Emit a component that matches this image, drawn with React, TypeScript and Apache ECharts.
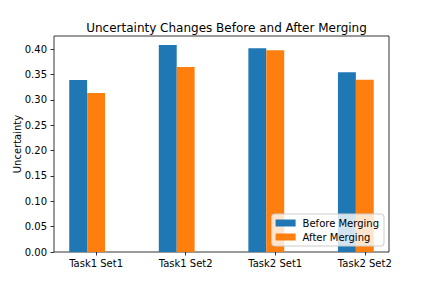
import React, { useEffect, useRef } from "react";
import * as echarts from "echarts";

const categories = ["Task1 Set1", "Task1 Set2", "Task2 Set1", "Task2 Set2"];
const beforeValues = [0.3395, 0.4085, 0.402, 0.355];
const afterValues = [0.3138, 0.365, 0.398, 0.34];
const xTickPositions = [0.1, 1.1, 2.1, 3.1];
const barWidth = 0.2;

export default function App() {
  const ref = useRef<HTMLDivElement>(null);
  useEffect(() => {
    if (!ref.current) return;
    const chart = echarts.init(ref.current, undefined, { renderer: "svg" });
    const font = "DejaVu Sans";
    const renderBar = (color: string) => (params: any, api: any) => {
      const x0 = api.value(0);
      const x1 = api.value(1);
      const y = api.value(2);
      const p0 = api.coord([x0, y]);
      const p1 = api.coord([x1, 0]);
      return {
        type: "rect",
        shape: { x: p0[0], y: p0[1], width: p1[0] - p0[0], height: p1[1] - p0[1] },
        style: { fill: color },
      };
    };
    chart.setOption({
      animation: false,
      textStyle: { fontFamily: font },
      title: {
        text: "Uncertainty Changes Before and After Merging",
        left: 221.5,
        textAlign: "center",
        top: 17,
        textStyle: { fontFamily: font, fontSize: 12, fontWeight: "normal", color: "#000" },
      },
      grid: {
        left: 54,
        right: 43,
        top: 36,
        bottom: 36,
        containLabel: false,
        outerBoundsMode: "none",
        show: true,
        borderColor: "#000",
        borderWidth: 0.8,
        backgroundColor: "transparent",
      },
      legend: {
        orient: "vertical",
        right: 48,
        bottom: 42,
        itemWidth: 20,
        itemHeight: 7,
        itemGap: 2,
        padding: [3, 5, 3, 4],
        backgroundColor: "rgba(255,255,255,0.8)",
        borderColor: "#ccc",
        borderWidth: 1,
        borderRadius: 3,
        textStyle: { fontFamily: font, fontSize: 10, lineHeight: 12, color: "#000", padding: [0, 0, 0, 2] },
        data: [
          { name: "Before Merging", icon: "rect", itemStyle: { color: "#1f77b4" } },
          { name: "After Merging", icon: "rect", itemStyle: { color: "#ff7f0e" } },
        ],
      },
      xAxis: {
        type: "value",
        min: -0.37,
        max: 3.37,
        splitLine: { show: false },
        axisLine: { show: false, onZero: false },
        axisTick: {
          show: true,
          customValues: xTickPositions,
          length: 3.5,
          lineStyle: { color: "#000", width: 0.8 },
        },
        axisLabel: {
          customValues: xTickPositions,
          margin: 6,
          fontFamily: font,
          fontSize: 10,
          color: "#000",
          formatter: (v: number) => categories[Math.round(v - 0.1)] ?? "",
        },
      },
      yAxis: {
        type: "value",
        min: 0,
        max: 0.4263,
        interval: 0.05,
        splitLine: { show: false },
        axisLine: { show: false, onZero: false },
        axisTick: {
          show: true,
          length: 3.5,
          lineStyle: { color: "#000", width: 0.8 },
        },
        axisLabel: {
          showMaxLabel: false,
          margin: 7,
          fontFamily: font,
          fontSize: 10,
          color: "#000",
          formatter: (v: number) => v.toFixed(2),
        },
        name: "Uncertainty",
        nameLocation: "middle",
        nameGap: 32,
        nameMoveOverlap: false,
        nameTextStyle: { fontFamily: font, fontSize: 10, color: "#000" },
      },
      series: [
        {
          name: "Before Merging",
          type: "custom",
          itemStyle: { color: "#1f77b4" },
          renderItem: renderBar("#1f77b4"),
          encode: { x: [0, 1], y: 2 },
          data: beforeValues.map((v, i) => [i - barWidth, i, v]),
        },
        {
          name: "After Merging",
          type: "custom",
          itemStyle: { color: "#ff7f0e" },
          renderItem: renderBar("#ff7f0e"),
          encode: { x: [0, 1], y: 2 },
          data: afterValues.map((v, i) => [i, i + barWidth, v]),
        },
      ],
    });
    return () => chart.dispose();
  }, []);
  return <div ref={ref} style={{ width: 432, height: 288, position: "absolute", left: 0, top: 0 }} />;
}
